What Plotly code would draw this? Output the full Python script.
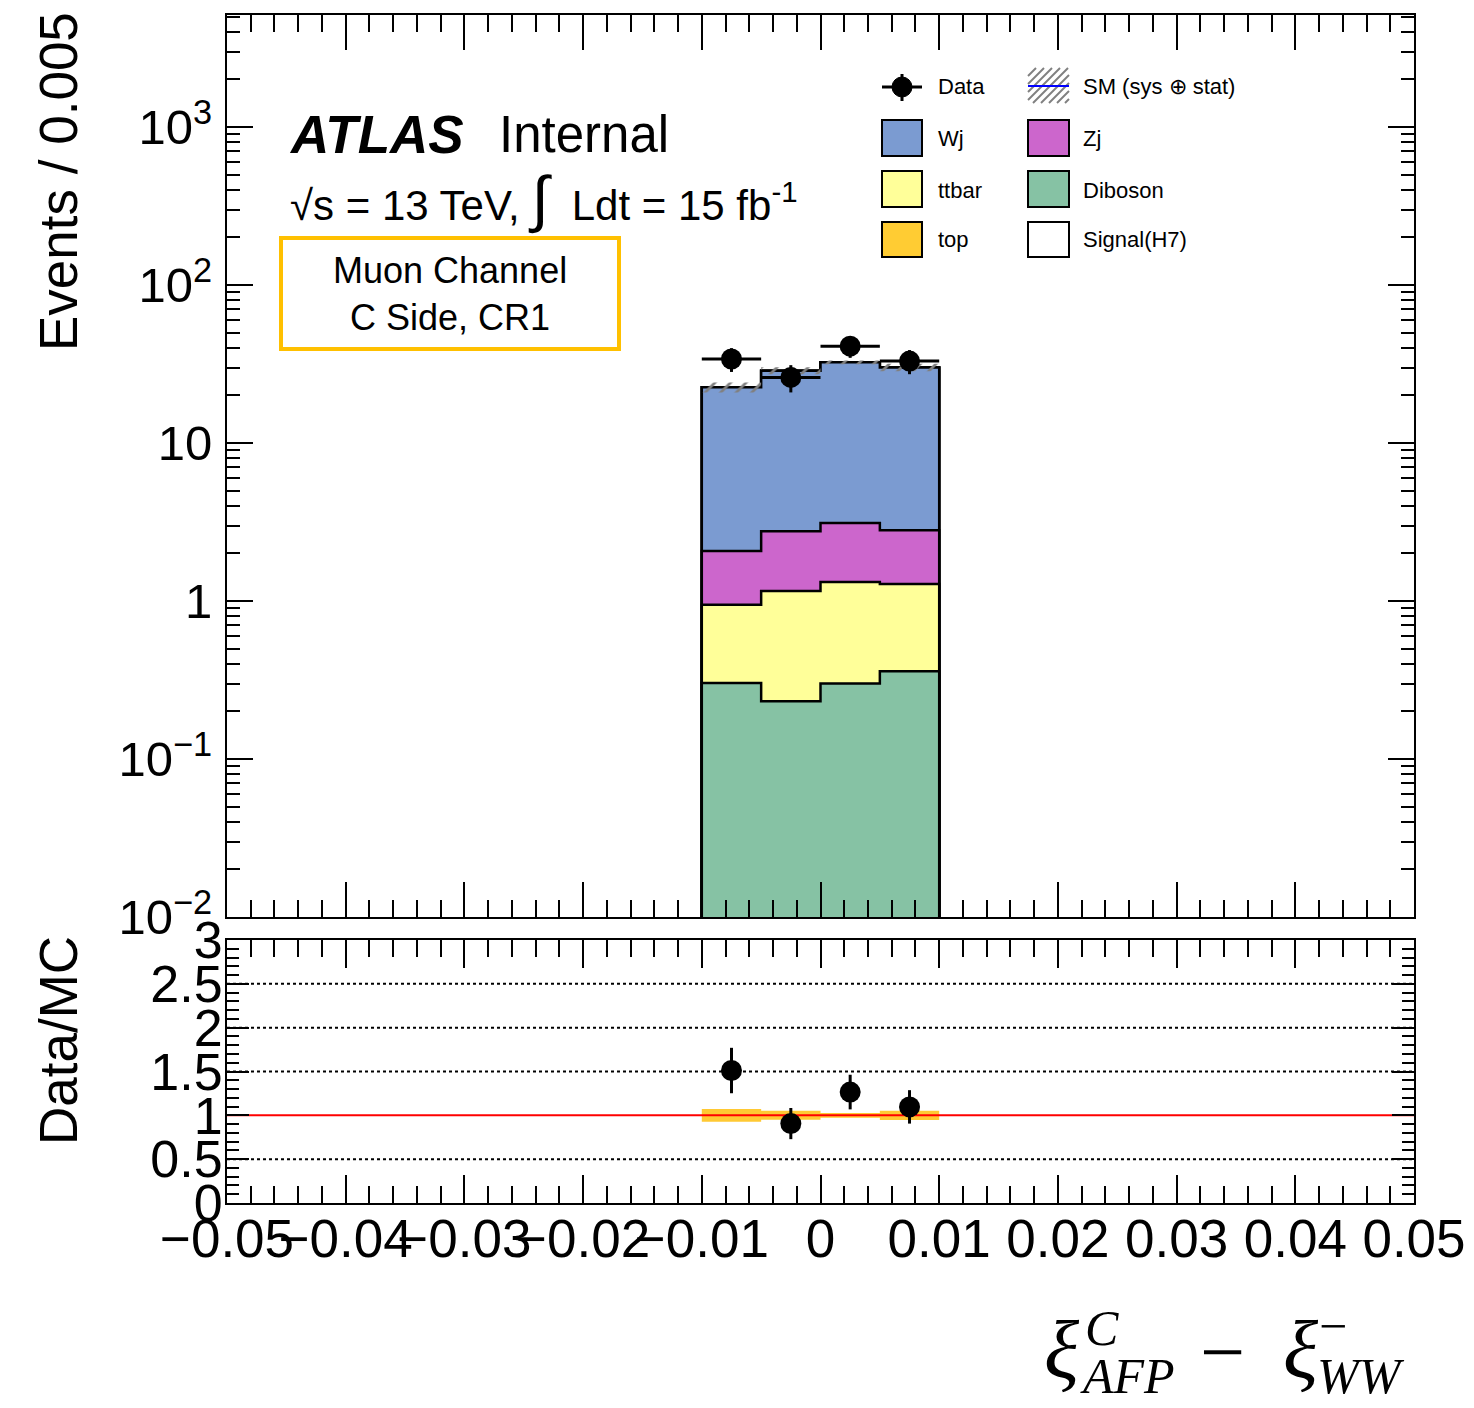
import plotly.graph_objects as go

W, H = 1474, 1408

# ---------------- data ----------------
bin_edges = [-0.010, -0.005, 0.000, 0.005, 0.010]
bin_centers = [-0.0075, -0.0025, 0.0025, 0.0075]
bin_half_width = [0.0025, 0.0025, 0.0025, 0.0025]

diboson = [0.303, 0.232, 0.300, 0.359]
ttbar = [0.644, 0.925, 1.020, 0.921]
zj = [1.123, 1.603, 1.800, 1.520]
wj = [20.43, 25.94, 29.28, 27.30]
top = [0.0, 0.0, 0.0, 0.0]
signal = [0.0, 0.0, 0.0, 0.0]

data = [34, 26, 41, 33]
data_err = [5.83, 5.10, 6.40, 5.74]
mc_rel_unc = [0.072, 0.051, 0.027, 0.053]

x_range = [-0.05, 0.05]
x_tick_vals = [-0.05, -0.04, -0.03, -0.02, -0.01, 0.0, 0.01, 0.02, 0.03, 0.04, 0.05]
x_tick_text = ["\u22120.05", "\u22120.04", "\u22120.03", "\u22120.02", "\u22120.01", "0",
               "0.01", "0.02", "0.03", "0.04", "0.05"]
y_tick_vals = [1e-2, 1e-1, 1, 10, 100, 1000]
y_tick_text = ["10<sup>\u22122</sup>", "10<sup>\u22121</sup>", "1", "10", "10<sup>2</sup>", "10<sup>3</sup>"]
ratio_tick_vals = [0, 0.5, 1, 1.5, 2, 2.5, 3]
ratio_tick_text = ["0", "0.5", "1", "1.5", "2", "2.5", "3"]
ratio_grid_vals = [0.5, 1.5, 2, 2.5]

colors = {
    "Wj": "#7B9BD1",
    "Zj": "#CC66CC",
    "ttbar": "#FFFF99",
    "top": "#FFCC33",
    "Diboson": "#86C2A4",
    "Signal(H7)": "#FFFFFF",
}

# ---------------- helpers ----------------
FONT = "Liberation Sans"
SERIF = "Liberation Serif"


def px2x(px):
    return px / W


def px2y(py):
    return 1 - py / H


def step_polygon(edges, vals, floor):
    xs = [edges[0]]
    ys = [floor]
    for i, v in enumerate(vals):
        xs += [edges[i], edges[i + 1]]
        ys += [v, v]
    xs.append(edges[-1])
    ys.append(floor)
    return xs, ys


def band_polygon(edges, lo, hi):
    xs, ys = [], []
    for i, v in enumerate(hi):
        xs += [edges[i], edges[i + 1]]
        ys += [v, v]
    for i in reversed(range(len(lo))):
        xs += [edges[i + 1], edges[i]]
        ys += [lo[i], lo[i]]
    xs.append(xs[0])
    ys.append(ys[0])
    return xs, ys


# cumulative stack (bottom -> top)
order = [("Diboson", diboson), ("ttbar", ttbar), ("Zj", zj), ("Wj", wj), ("top", top), ("Signal(H7)", signal)]
cum = []
running = [0.0] * len(bin_centers)
for name, vals in order:
    running = [r + v for r, v in zip(running, vals)]
    cum.append((name, list(running)))
total = cum[-1][1]

fig = go.Figure()

# stacked histograms, draw from the largest cumulative to the smallest
for name, c in reversed(cum):
    xs, ys = step_polygon(bin_edges, c, 1e-4)
    fig.add_trace(go.Scatter(
        x=xs, y=ys, mode="lines", fill="toself", fillcolor=colors[name],
        line=dict(color="black", width=2.5), xaxis="x", yaxis="y",
        showlegend=False, hoverinfo="skip"))

# hatched MC uncertainty band
hi = [t * (1 + r) for t, r in zip(total, mc_rel_unc)]
lo = [t * (1 - r) for t, r in zip(total, mc_rel_unc)]
bx, by = band_polygon(bin_edges, lo, hi)
fig.add_trace(go.Scatter(
    x=bx, y=by, mode="lines", fill="toself", fillcolor="rgba(0,0,0,0)",
    fillpattern=dict(shape="/", fgcolor="#808080", bgcolor="rgba(0,0,0,0)", size=11, solidity=0.25),
    line=dict(width=0), xaxis="x", yaxis="y", showlegend=False, hoverinfo="skip"))

# data points
fig.add_trace(go.Scatter(
    x=bin_centers, y=data, mode="markers",
    marker=dict(color="black", size=21),
    error_x=dict(type="data", array=bin_half_width, color="black", thickness=3, width=0),
    error_y=dict(type="data", array=data_err, color="black", thickness=3, width=0),
    xaxis="x", yaxis="y", showlegend=False))

# ---------------- ratio panel ----------------
ratio = [d / t for d, t in zip(data, total)]
ratio_err = [e / t for e, t in zip(data_err, total)]
rx, ry = band_polygon(bin_edges, [1 - r for r in mc_rel_unc], [1 + r for r in mc_rel_unc])
fig.add_trace(go.Scatter(
    x=rx, y=ry, mode="lines", fill="toself", fillcolor="#FFC933",
    line=dict(width=0), xaxis="x2", yaxis="y2", showlegend=False, hoverinfo="skip"))
fig.add_trace(go.Scatter(
    x=x_range, y=[1, 1], mode="lines", line=dict(color="#FF0000", width=2),
    xaxis="x2", yaxis="y2", showlegend=False, hoverinfo="skip"))
fig.add_trace(go.Scatter(
    x=bin_centers, y=ratio, mode="markers",
    marker=dict(color="black", size=21),
    error_y=dict(type="data", array=ratio_err, color="black", thickness=3, width=0),
    xaxis="x2", yaxis="y2", showlegend=False))

# ---------------- layout ----------------
xdom = [px2x(227), px2x(1414)]
axis_common = dict(showline=True, linecolor="black", linewidth=2, mirror="allticks",
                   zeroline=False, showgrid=False, ticks="inside", tickwidth=2,
                   tickcolor="black", automargin=False, tickangle=0)

fig.update_layout(
    template="none",
    width=W, height=H,
    margin=dict(l=0, r=0, t=0, b=0, pad=0),
    paper_bgcolor="white", plot_bgcolor="white",
    font=dict(family=FONT, color="black"),
    showlegend=False,
    xaxis=dict(domain=xdom, anchor="y", range=x_range, tickmode="array", tickvals=x_tick_vals,
               showticklabels=False, ticklen=35,
               minor=dict(ticks="inside", ticklen=17, tickwidth=2, tickcolor="black", dtick=0.002, tick0=0),
               **axis_common),
    yaxis=dict(domain=[px2y(917), px2y(15)], anchor="x", type="log", range=[-2, 3.709],
               tickmode="array", tickvals=y_tick_vals, ticktext=y_tick_text, ticklen=26,
               tickfont=dict(size=49), ticklabelstandoff=3,
               minor=dict(ticks="inside", ticklen=13, tickwidth=2, tickcolor="black", dtick="D1"),
               **axis_common),
    xaxis2=dict(domain=xdom, anchor="y2", range=x_range, tickmode="array", tickvals=x_tick_vals,
                ticktext=x_tick_text, ticklen=28, tickfont=dict(size=53), ticklabelstandoff=-12,
                minor=dict(ticks="inside", ticklen=17, tickwidth=2, tickcolor="black", dtick=0.002, tick0=0),
                **axis_common),
    yaxis2=dict(domain=[px2y(1203), px2y(940)], anchor="x2", range=[0, 3],
                tickmode="array", tickvals=ratio_tick_vals, ticktext=ratio_tick_text, ticklen=22,
                tickfont=dict(size=52), ticklabelstandoff=-8,
                minor=dict(ticks="inside", ticklen=12, tickwidth=2, tickcolor="black", dtick=0.1, tick0=0),
                **axis_common),
)

shapes = []
for v in ratio_grid_vals:
    shapes.append(dict(type="line", xref="x2 domain", yref="y2", x0=0, x1=1, y0=v, y1=v,
                       line=dict(color="black", width=2, dash="dot"), layer="below"))

# region box
shapes.append(dict(type="rect", xref="paper", yref="paper",
                   x0=px2x(281), x1=px2x(619), y0=px2y(349), y1=px2y(238),
                   line=dict(color="#FFC000", width=4), fillcolor="rgba(0,0,0,0)"))


def box(x0, y0, x1, y1, color, border=True):
    shapes.append(dict(type="rect", xref="paper", yref="paper",
                       x0=px2x(x0), x1=px2x(x1), y0=px2y(y1), y1=px2y(y0),
                       line=dict(color="black", width=2 if border else 0), fillcolor=color))


# Data legend entry
shapes.append(dict(type="line", xref="paper", yref="paper", x0=px2x(882), x1=px2x(922),
                   y0=px2y(87), y1=px2y(87), line=dict(color="black", width=3)))
shapes.append(dict(type="line", xref="paper", yref="paper", x0=px2x(902), x1=px2x(902),
                   y0=px2y(74), y1=px2y(101), line=dict(color="black", width=3)))
shapes.append(dict(type="circle", xref="paper", yref="paper", x0=px2x(892), x1=px2x(912),
                   y0=px2y(97), y1=px2y(77), line=dict(color="black", width=1), fillcolor="black"))

legend_rows = [120, 171, 222]
legend_h = [36, 36, 35]
left_items = ["Wj", "ttbar", "top"]
right_items = ["Zj", "Diboson", "Signal(H7)"]
for i, (l, r) in enumerate(zip(left_items, right_items)):
    y0 = legend_rows[i]
    box(882, y0, 922, y0 + legend_h[i], colors[l])
    box(1028, y0, 1069, y0 + legend_h[i], colors[r])

# SM hatched legend entry
hx0, hy0, hx1, hy1 = 1028, 68, 1069, 103
step = 8
k = hx0 - (hy1 - hy0)
while k < hx1:
    sx0, sy0 = k, hy1
    sx1, sy1 = k + (hy1 - hy0), hy0
    if sx0 < hx0:
        sy0 = hy1 - (hx0 - sx0)
        sx0 = hx0
    if sx1 > hx1:
        sy1 = hy0 + (sx1 - hx1)
        sx1 = hx1
    if sx1 > sx0:
        shapes.append(dict(type="line", xref="paper", yref="paper", x0=px2x(sx0), x1=px2x(sx1),
                           y0=px2y(sy0), y1=px2y(sy1), line=dict(color="#808080", width=2)))
    k += step
shapes.append(dict(type="line", xref="paper", yref="paper", x0=px2x(1028), x1=px2x(1069),
                   y0=px2y(86), y1=px2y(86), line=dict(color="#0000FF", width=2)))

fig.update_layout(shapes=shapes)

annotations = []


def ann(text, px, py, size, xanchor="left", yanchor="middle", family=FONT, angle=0):
    annotations.append(dict(text=text, x=px2x(px), y=px2y(py), xref="paper", yref="paper",
                            xanchor=xanchor, yanchor=yanchor, showarrow=False, textangle=angle,
                            font=dict(family=family, size=size, color="black")))


legend_text_left = [("Data", 87), ("Wj", 138), ("ttbar", 190), ("top", 240)]
legend_text_right = [("SM (sys \u2295 stat)", 87), ("Zj", 138), ("Diboson", 190), ("Signal(H7)", 240)]
for t, y in legend_text_left:
    ann(t, 936, y, 22)
for t, y in legend_text_right:
    ann(t, 1081, y, 22)

ann("<b><i>ATLAS</i></b>", 287, 134, 53)
ann("Internal", 497, 134, 51)
ann("\u221As = 13 TeV,\u00A0<span style='font-size:62px'>\u222B</span>\u00A0\u00A0Ldt = 15 fb<sup>-1</sup>",
    288, 199, 42)
ann("Muon Channel<br>C Side, CR1", 450, 294, 36, xanchor="center")

ann("Events / 0.005", 58, 182, 53, xanchor="center", angle=-90)
ann("Data/MC", 58, 1041, 53, xanchor="center", angle=-90)

# x-axis title  xi^C_AFP - xi^-_WW
ann("<i>\u03BE</i>", 1062, 1350, 82, xanchor="center", family=SERIF)
ann("<i>C</i>", 1102, 1328, 50, xanchor="center", family=SERIF)
ann("<i>AFP</i>", 1127, 1376, 50, xanchor="center", family=SERIF)
ann("\u2212", 1222, 1352, 80, xanchor="center", family=SERIF)
ann("<i>\u03BE</i>", 1301, 1350, 82, xanchor="center", family=SERIF)
ann("\u2212", 1333, 1326, 50, xanchor="center", family=SERIF)
ann("<i>WW</i>", 1361, 1376, 50, xanchor="center", family=SERIF)

fig.update_layout(annotations=annotations)

fig.write_html("out.html", config={"displayModeBar": False},
               post_script="document.body.style.margin='0';document.body.style.padding='0';")
